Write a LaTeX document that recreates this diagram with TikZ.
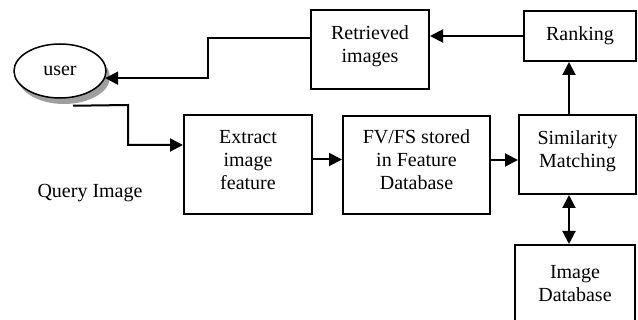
\documentclass[tikz,border=0pt]{standalone}
\usepackage{fontspec}
\setmainfont{Liberation Serif}
\usepackage{tikz}
\usetikzlibrary{arrows.meta,shadows,shapes.geometric}

\begin{document}
\begin{tikzpicture}[x=1pt,y=-1pt,
  box/.style={draw,line width=2pt,fill=white,align=center,inner sep=0pt,
    font=\fontsize{20}{23}\selectfont},
  lifted/.style={text depth=10pt},
  arr/.style={line width=2pt,-{Triangle[length=13pt,width=13pt]}},
  dbl/.style={line width=2pt,{Triangle[length=13pt,width=13pt]}-{Triangle[length=13pt,width=13pt]}}]
\useasboundingbox (0,0) rectangle (638,320);
\node[box,ellipse,minimum width=92,minimum height=54,line width=1.5pt,
  drop shadow={shadow xshift=4pt,shadow yshift=-6pt,fill=gray!75,opacity=1}] (user) at (60,71) {user};
\node[box,lifted,minimum width=118,minimum height=79] (retrieved) at (370,49.5) {Retrieved\\images};
\node[box,minimum width=112,minimum height=50] (ranking) at (580,36) {Ranking};
\node[box,lifted,minimum width=128,minimum height=99] (extract) at (248,164.5) {Extract\\image\\feature};
\node[box,lifted,minimum width=147,minimum height=98] (fvfs) at (416.5,165) {FV/FS stored\\in Feature\\Database};
\node[box,lifted,minimum width=117,minimum height=79] (simil) at (577.5,154.5) {Similarity\\Matching};
\node[box,minimum width=120,minimum height=77] (imgdb) at (575,283.5) {Image\\Database};
\node[font=\fontsize{20}{23}\selectfont] (query) at (90,193) {Query Image};
% connectors
\coordinate (bendA) at (208,38);
\coordinate (bendB) at (128,105);
\draw[arr] (ranking.west) -- (ranking.west -| retrieved.east);
\draw[arr] (retrieved.west |- bendA) -- (bendA) |- (user.-9);
\draw[arr] ([xshift=13pt,yshift=-7pt]user.south) -- (bendB) |- ([yshift=19.5pt]extract.west);
\draw[arr] ([yshift=5pt]extract.east) -- ([yshift=5pt]extract.east -| fvfs.west);
\draw[arr] ([yshift=5pt]fvfs.east) -- ([yshift=5pt]fvfs.east -| simil.west);
\draw[arr] ([xshift=-8.5pt]simil.north) -- ([xshift=-8.5pt]simil.north |- ranking.south);
\draw[dbl] ([xshift=-8.5pt]simil.south) -- ([xshift=-8.5pt]simil.south |- imgdb.north);
\end{tikzpicture}
\end{document}
